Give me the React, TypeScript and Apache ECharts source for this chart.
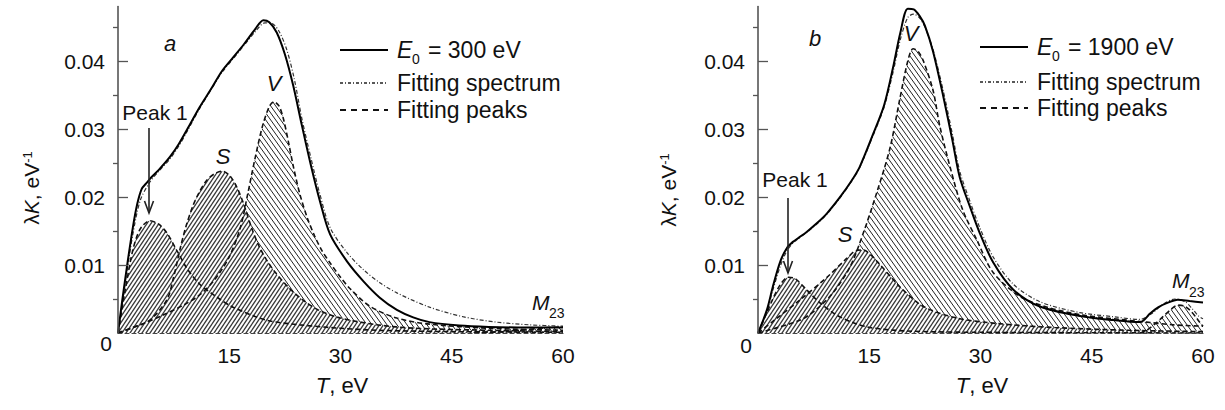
import React, { useEffect, useRef } from "react";
import * as echarts from "echarts";

// ---------- data (T in eV, λK in eV^-1) ----------
const xTicks = [15, 30, 45, 60];
const yMajor = [0.01, 0.02, 0.03, 0.04];
const yMinor = [0.005, 0.015, 0.025, 0.035, 0.045];

// panel a, E0 = 300 eV
const measuredA = [[0,0],[0.6,0.005],[1.2,0.0097],[2,0.0155],[2.6,0.019],[3.2,0.0212],[3.8,0.022],[4.5,0.0229],[5.5,0.024],[7,0.0259],[8.2,0.0278],[9.3,0.0299],[11,0.0332],[12.5,0.0358],[14,0.0385],[15.5,0.0405],[17,0.0425],[18.5,0.0447],[19.6,0.046],[20.4,0.0457],[21.4,0.0442],[22.5,0.041],[23.6,0.0365],[24.8,0.0305],[26,0.0247],[27.2,0.0195],[28.6,0.0145],[30.9,0.0105],[33.1,0.0076],[35.3,0.0052],[37.6,0.0034],[39.8,0.0023],[42,0.0016],[46,0.0011],[50,0.0009],[55,0.0008],[60,0.0008]];
const fitA = [[0,0],[0.6,0.0045],[1.2,0.009],[2,0.0145],[3,0.0195],[4.3,0.0222],[5.5,0.0238],[7,0.0256],[8.2,0.0275],[9.3,0.0296],[11,0.033],[12.5,0.0357],[14,0.0383],[15.5,0.0403],[17,0.0423],[18.5,0.0443],[19.8,0.0456],[20.8,0.0455],[21.8,0.0442],[22.8,0.0415],[23.8,0.0372],[24.8,0.0315],[26,0.0258],[27.2,0.0205],[28.6,0.0155],[30.9,0.0118],[33.1,0.0093],[35.3,0.0074],[37.6,0.0059],[42,0.0038],[46.5,0.0024],[51,0.0016],[55.5,0.0012],[60,0.001]];
const peak1A = [[0,0],[1,0.0065],[2,0.0122],[3,0.0153],[4.3,0.0165],[5.5,0.016],[6.6,0.0147],[7.9,0.0122],[9.3,0.0095],[11,0.0072],[13.3,0.0053],[15.5,0.0038],[20,0.0019],[24.5,0.0012],[30,0.0007],[35,0.0004],[45,0.0002],[60,0.0001]];
const sPeakA = [[0,0],[2,0.0008],[4.3,0.0019],[6.6,0.0049],[7.5,0.0082],[8.4,0.0125],[9.2,0.0158],[10.1,0.0187],[11,0.0208],[12,0.0225],[13,0.0234],[14,0.0238],[15,0.0232],[16,0.0215],[17,0.0188],[18,0.0155],[19,0.0128],[20,0.0108],[21,0.0092],[23,0.0067],[25,0.0048],[27,0.0034],[30,0.0022],[35,0.0012],[40,0.0007],[50,0.0004],[60,0.0002]];
const vPeakA = [[0,0],[3,0.0012],[6,0.0026],[9,0.0042],[11,0.0056],[13,0.0078],[15,0.0112],[16.5,0.0155],[17.5,0.0205],[18.5,0.0258],[19.5,0.0305],[20.4,0.0333],[21,0.034],[21.7,0.0334],[22.3,0.0315],[23,0.028],[23.6,0.0247],[24.5,0.0205],[25.5,0.017],[26.5,0.0143],[27.5,0.0121],[28.6,0.0103],[30,0.0082],[31.3,0.0065],[34,0.0039],[37.6,0.0022],[42,0.0013],[50,0.0007],[60,0.0004]];
const m23A = [[48,0],[52,0.0002],[55,0.0005],[58,0.0008],[60,0.0009]];

// panel b, E0 = 1900 eV
const measuredB = [[0,0],[1.2,0.0034],[2,0.0068],[3,0.0105],[3.9,0.0125],[4.7,0.0134],[5.6,0.0141],[6.6,0.0149],[8,0.0162],[9.3,0.0176],[11,0.0199],[12.5,0.0222],[13.7,0.0244],[15.5,0.0292],[17,0.0335],[18.2,0.039],[19.2,0.0442],[20.2,0.0477],[21,0.0476],[21.8,0.0466],[22.5,0.0452],[23.6,0.0414],[25,0.0347],[26.2,0.0284],[27.2,0.0229],[28.6,0.0185],[29.9,0.0147],[31.7,0.0104],[34.4,0.0064],[38,0.0039],[43.4,0.0025],[47.9,0.0019],[51.5,0.0016],[52.9,0.0029],[54,0.0038],[55.1,0.0044],[56.6,0.0049],[58.2,0.0047],[60,0.0045]];
const fitB = [[0,0],[1.2,0.0032],[2,0.0063],[3,0.0098],[3.9,0.0121],[4.7,0.0132],[5.6,0.014],[6.6,0.0148],[8,0.0161],[9.3,0.0175],[11,0.0198],[12.5,0.0221],[13.7,0.0243],[15.5,0.029],[17,0.0332],[18.2,0.0383],[19.2,0.0432],[20.2,0.0464],[21,0.0469],[21.8,0.0463],[22.5,0.045],[23.6,0.0417],[25,0.0355],[26.2,0.0293],[27.2,0.0238],[28.6,0.0193],[29.9,0.0155],[31.7,0.0112],[34.4,0.0072],[38,0.0046],[43.4,0.003],[47.9,0.0024],[51.5,0.002],[53,0.0028],[54.6,0.0042],[56.2,0.005],[57.6,0.0046],[58.6,0.0035],[59.4,0.0025],[60,0.0021]];
const peak1B = [[0,0],[1,0.0025],[2,0.005],[3,0.0071],[4.1,0.0082],[5,0.008],[6.6,0.0063],[8.4,0.0044],[11,0.0024],[14.7,0.0009],[20,0.0003],[30,0.0001],[60,0]];
const sPeakB = [[0,0],[2,0.0017],[5.7,0.0049],[9.3,0.0082],[12,0.011],[13.2,0.0121],[14.2,0.0122],[15.2,0.0115],[16.4,0.0101],[18.2,0.0079],[19.1,0.0068],[22.3,0.0039],[26.8,0.0022],[32.2,0.0014],[40,0.0008],[50,0.0004],[60,0.0002]];
const vPeakB = [[0,0],[5.7,0.0019],[8,0.0036],[10.1,0.0059],[12.4,0.0097],[14.2,0.0147],[16,0.0206],[17.8,0.0272],[19.1,0.0343],[20.2,0.04],[20.9,0.0418],[21.6,0.0414],[22.3,0.04],[23.6,0.0357],[24.5,0.0305],[25.9,0.0244],[27.6,0.0181],[29.5,0.0137],[31.7,0.0089],[35.3,0.0054],[39,0.0038],[43.4,0.0027],[47.9,0.0021],[52.4,0.0016],[56,0.0012],[60,0.001]];
const m23B = [[51.5,0],[52.4,0.0004],[53.5,0.0013],[54.6,0.0024],[55.6,0.0034],[56.6,0.0041],[57.4,0.004],[58.2,0.0034],[59,0.0024],[59.6,0.0015],[60,0.001]];

const legendA = ["= 300 eV", "Fitting spectrum", "Fitting peaks"];
const legendB = ["= 1900 eV", "Fitting spectrum", "Fitting peaks"];

// ---------- styling ----------
const FONT = '"Liberation Sans", Arial, Helvetica, sans-serif';
const INK = "#111";

function hatch(w: number, h: number, dir: string, color: string, lw: number) {
  const c = document.createElement("canvas");
  c.width = w;
  c.height = h;
  const ctx = c.getContext("2d")!;
  ctx.fillStyle = "#fff";
  ctx.fillRect(0, 0, w, h);
  ctx.strokeStyle = color;
  ctx.lineWidth = lw;
  ctx.beginPath();
  for (const [dx, dy] of [[0, 0], [w, 0], [-w, 0], [0, h], [0, -h]]) {
    if (dir === "/") {
      ctx.moveTo(dx, dy + h);
      ctx.lineTo(dx + w, dy);
    } else {
      ctx.moveTo(dx, dy);
      ctx.lineTo(dx + w, dy + h);
    }
  }
  ctx.stroke();
  return { image: c.toDataURL(), repeat: "repeat", imageWidth: w, imageHeight: h };
}

function txt(x: number, y: number, text: string, size: number, extra: any = {}) {
  const align = extra.align || "left";
  return {
    type: "text",
    x,
    y,
    silent: true,
    style: {
      text,
      fontSize: size,
      fontFamily: FONT,
      fontStyle: extra.italic ? "italic" : "normal",
      fill: INK,
      align,
      textAlign: align,
      verticalAlign: "middle",
      textVerticalAlign: "middle",
    },
  };
}

export default function App() {
  const ref = useRef<HTMLDivElement>(null);
  useEffect(() => {
    if (!ref.current) return;
    const chart = echarts.init(ref.current, null, { renderer: "svg" });

    const patGray = hatch(4, 6, "/", "#3a3a3a", 1.3);
    const patV = hatch(5, 7, "\\", "#222", 1);

    const xAxis = (gi: number) => ({
      type: "value",
      gridIndex: gi,
      min: 0,
      max: 60,
      interval: 15,
      axisLine: { show: true, lineStyle: { color: "#444", type: [4, 3], width: 1.2 } },
      axisTick: { show: false },
      splitLine: { show: false },
      axisLabel: {
        formatter: (v: number) => (xTicks.includes(v) ? String(v) : ""),
        fontSize: 21,
        color: INK,
        fontFamily: FONT,
        margin: 12,
      },
      z: 5,
    });
    const yAxisMain = (gi: number) => ({
      type: "value",
      gridIndex: gi,
      min: 0,
      max: 0.048,
      interval: 0.01,
      axisLine: { show: true, onZero: false, lineStyle: { color: "#555", width: 1.6 } },
      axisTick: { show: true, inside: true, length: 10, customValues: yMajor, lineStyle: { color: "#555", width: 1.3 } },
      axisLabel: {
        customValues: yMajor,
        formatter: (v: number) => (v > 0 && Math.abs(v * 100 - Math.round(v * 100)) < 1e-6 ? v.toFixed(2) : ""),
        fontSize: 21,
        color: INK,
        fontFamily: FONT,
        margin: 13,
      },
      splitLine: { show: false },
      z: 5,
    });
    const yAxisMinor = (gi: number) => ({
      type: "value",
      gridIndex: gi,
      min: 0,
      max: 0.048,
      interval: 0.01,
      axisLine: { show: false },
      axisTick: { show: true, inside: true, length: 5, customValues: yMinor, lineStyle: { color: "#555", width: 1.3 } },
      axisLabel: { show: false },
      splitLine: { show: false },
      z: 5,
    });

    // hatched fill only (opaque pattern, so later fills cover earlier ones)
    const fill = (data: number[][], pat: any, xi: number, yi: number, z: number) => ({
      type: "line",
      xAxisIndex: xi,
      yAxisIndex: yi,
      data,
      smooth: 0.3,
      symbol: "none",
      silent: true,
      lineStyle: { width: 0, opacity: 0 },
      areaStyle: { color: pat, opacity: 1 },
      z,
    });
    // dashed outline of a fitted peak
    const outline = (data: number[][], xi: number, yi: number) => ({
      type: "line",
      xAxisIndex: xi,
      yAxisIndex: yi,
      data,
      smooth: 0.3,
      symbol: "none",
      silent: true,
      lineStyle: { color: "#111", width: 1.6, type: [5, 3] },
      z: 3,
    });
    const fit = (data: number[][], xi: number, yi: number) => ({
      type: "line",
      xAxisIndex: xi,
      yAxisIndex: yi,
      data,
      smooth: 0.3,
      symbol: "none",
      silent: true,
      lineStyle: { color: "#333", width: 1.2, type: [4, 2, 1, 2] },
      z: 3,
    });
    const meas = (data: number[][], xi: number, yi: number) => ({
      type: "line",
      xAxisIndex: xi,
      yAxisIndex: yi,
      data,
      smooth: 0.3,
      symbol: "none",
      silent: true,
      lineStyle: { color: "#000", width: 2 },
      z: 4,
    });

    const legend = (lx: number, tx: number, ys: number[], labels: string[]) => [
      { type: "line", silent: true, shape: { x1: lx, y1: ys[0], x2: lx + 48, y2: ys[0] }, style: { stroke: "#000", lineWidth: 2 } },
      { type: "line", silent: true, shape: { x1: lx, y1: ys[1], x2: lx + 48, y2: ys[1] }, style: { stroke: "#222", lineWidth: 1.3, lineDash: [3, 2, 1, 2] } },
      { type: "line", silent: true, shape: { x1: lx, y1: ys[2], x2: lx + 48, y2: ys[2] }, style: { stroke: "#111", lineWidth: 1.8, lineDash: [6, 5] } },
      txt(tx, ys[0], "E", 23, { italic: true }),
      txt(tx + 15, ys[0] + 9, "0", 14),
      txt(tx + 31, ys[0], labels[0], 23),
      txt(tx, ys[1], labels[1], 23),
      txt(tx, ys[2], labels[2], 23),
    ];

    const yName = (x: number, y: number) => ({
      type: "text",
      x,
      y,
      rotation: Math.PI / 2,
      silent: true,
      style: {
        text: "{n|λ}{i|K}{n|, eV}{s|-1}",
        align: "center",
        textAlign: "center",
        verticalAlign: "middle",
        textVerticalAlign: "middle",
        fill: INK,
        rich: {
          n: { fontSize: 21, fontFamily: FONT, fill: INK },
          i: { fontSize: 21, fontFamily: FONT, fontStyle: "italic", fill: INK },
          s: { fontSize: 13, fontFamily: FONT, fill: INK, verticalAlign: "top" },
        },
      },
    });
    const xName = (x: number, y: number) => ({
      type: "text",
      x,
      y,
      silent: true,
      style: {
        text: "{i|T}{n|, eV}",
        align: "center",
        textAlign: "center",
        verticalAlign: "middle",
        textVerticalAlign: "middle",
        fill: INK,
        rich: {
          n: { fontSize: 22, fontFamily: FONT, fill: INK },
          i: { fontSize: 22, fontFamily: FONT, fontStyle: "italic", fill: INK },
        },
      },
    });
    const arrow = (x: number, y1: number, y2: number) => [
      { type: "line", silent: true, z: 10, shape: { x1: x, y1, x2: x, y2 }, style: { stroke: "#222", lineWidth: 1.6 } },
      { type: "polyline", silent: true, z: 10, shape: { points: [[x - 4.5, y2 - 12], [x, y2], [x + 4.5, y2 - 12]] }, style: { stroke: "#222", lineWidth: 1.6, fill: "none" } },
    ];

    const option: any = {
      animation: false,
      backgroundColor: "#fff",
      grid: [
        { left: 118, top: 6.6, width: 445, height: 326.4 },
        { left: 758, top: 6.6, width: 445, height: 326.4 },
      ],
      xAxis: [xAxis(0), xAxis(1)],
      yAxis: [yAxisMain(0), yAxisMinor(0), yAxisMain(1), yAxisMinor(1)],
      series: [
        // panel a
        fill(vPeakA, patV, 0, 0, 1),
        fill(m23A, patV, 0, 0, 1),
        fill(peak1A, patGray, 0, 0, 2),
        fill(sPeakA, patGray, 0, 0, 2),
        outline(vPeakA, 0, 0),
        outline(m23A, 0, 0),
        outline(peak1A, 0, 0),
        outline(sPeakA, 0, 0),
        fit(fitA, 0, 0),
        meas(measuredA, 0, 0),
        // panel b
        fill(vPeakB, patV, 1, 2, 1),
        fill(m23B, patV, 1, 2, 1),
        fill(peak1B, patGray, 1, 2, 2),
        fill(sPeakB, patGray, 1, 2, 2),
        outline(vPeakB, 1, 2),
        outline(m23B, 1, 2),
        outline(peak1B, 1, 2),
        outline(sPeakB, 1, 2),
        fit(fitB, 1, 2),
        meas(measuredB, 1, 2),
      ],
      graphic: {
        elements: [
          ...legend(340, 397, [50, 83, 110], legendA),
          ...legend(980, 1037, [47, 82, 108], legendB),
          yName(31, 188),
          yName(668, 190),
          xName(342, 385),
          xName(982, 385),
          txt(106, 343, "0", 21, { align: "center" }),
          txt(746, 345, "0", 21, { align: "center" }),
          txt(170, 43, "a", 22, { italic: true, align: "center" }),
          txt(815, 38, "b", 22, { italic: true, align: "center" }),
          txt(155, 112, "Peak 1", 21, { align: "center" }),
          txt(795, 179, "Peak 1", 21, { align: "center" }),
          ...arrow(149, 128, 213),
          ...arrow(788, 198, 273),
          txt(223, 156, "S", 22, { italic: true, align: "center" }),
          txt(845, 234, "S", 22, { italic: true, align: "center" }),
          txt(274, 83, "V", 22, { italic: true, align: "center" }),
          txt(911, 33, "V", 22, { italic: true, align: "center" }),
          txt(532, 302, "M", 21, { italic: true }),
          txt(549, 313, "23", 14),
          txt(1172, 280, "M", 21, { italic: true }),
          txt(1189, 292, "23", 14),
        ],
      },
    };
    chart.setOption(option);
    return () => chart.dispose();
  }, []);

  return (
    <div
      ref={ref}
      style={{ position: "fixed", left: 0, top: 0, width: 1225, height: 410, background: "#fff" }}
    />
  );
}
